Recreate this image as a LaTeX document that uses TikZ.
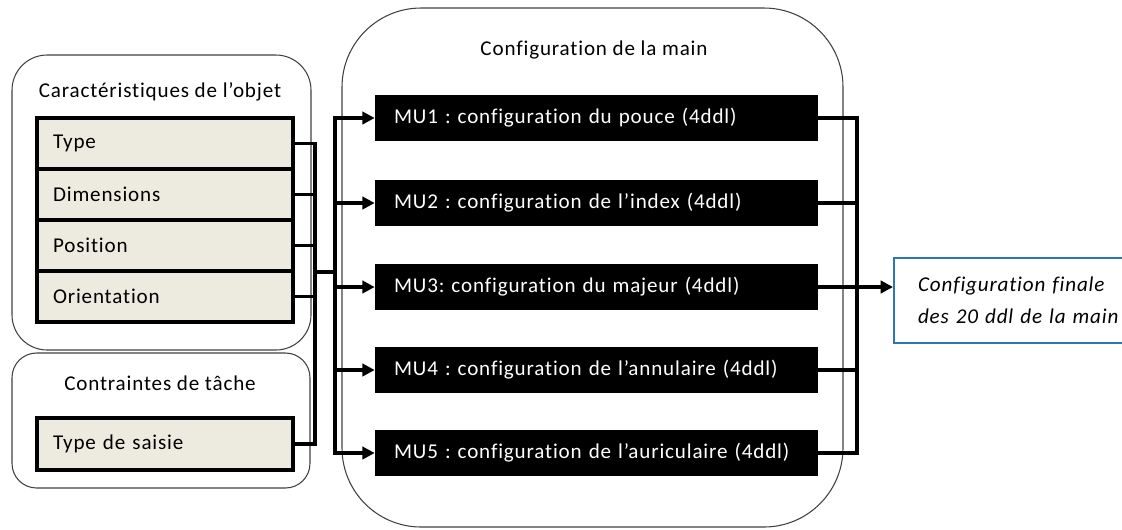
\documentclass[tikz,border=0pt]{standalone}
\usepackage{fontspec}
\setmainfont{Carlito}[LetterSpace=4, Ligatures=NoCommon]
\usetikzlibrary{positioning,arrows.meta}
\definecolor{beige}{HTML}{EDEADF}
\definecolor{cadre}{HTML}{2E75B6}
\frenchspacing
\begin{document}
\begin{tikzpicture}[x=0.02cm,y=-0.02cm,
	every node/.style={font=\fontsize{12}{14}\selectfont},
	groupe/.style={draw=black!75, line width=0.6pt},
	attr/.style={draw, line width=1.8pt, fill=beige, minimum height=1.02cm, text width=4.48cm, inner xsep=0.32cm, align=left},
	mu/.style={fill=black, text=white, minimum height=0.93cm, text width=8.1cm, inner xsep=0.38cm, align=left},
	conn/.style={line width=2.2pt, line cap=rect},
	fl/.style={conn, -{Triangle[length=7pt,width=7pt]}}]
	\useasboundingbox (0,0) rectangle (1122,529);
	\draw[groupe, rounded corners=20pt] (12,55) rectangle (311,350);
	\draw[groupe, rounded corners=14pt] (12,353) rectangle (310,488);
	\draw[groupe, rounded corners=45pt] (342,8) rectangle (843,527);
	\node (t1) at (160,92) {Caractéristiques de l’objet};
	\node (t2) at (160,383) {Contraintes de tâche};
	\node (t3) at (594,50) {Configuration de la main};
	\node[attr] (type) at (165,143.5) {Type};
	\node[attr] (dim) at (165,194.5) {Dimensions};
	\node[attr] (pos) at (165,245.5) {Position};
	\node[attr] (ori) at (165,296.5) {Orientation};
	\node[attr, minimum height=1.04cm] (saisie) at (165,444) {Type de saisie};
	\node[mu] (mu1) at (596.5,118) {MU1 : configuration du pouce (4ddl)};
	\node[mu] (mu2) at (596.5,203) {MU2 : configuration de l’index (4ddl)};
	\node[mu] (mu3) at (596.5,287) {MU3: configuration du majeur (4ddl)};
	\node[mu] (mu4) at (596.5,370) {MU4 : configuration de l’annulaire (4ddl)};
	\node[mu] (mu5) at (596.5,453) {MU5 : configuration de l’auriculaire (4ddl)};
	\node[draw=cadre, line width=1.2pt, anchor=west, minimum height=1.7cm, text width=4.6cm, inner xsep=0.48cm, align=left,
		font=\itshape\fontsize{12}{18}\selectfont] (fin) at (893,300.5) {Configuration finale\\des 20 ddl de la main};
	\coordinate (b1) at (315,272);
	\coordinate (b2) at (335,272);
	\coordinate (b3) at (857,287);
	\foreach \n in {type,dim,pos,ori,saisie}
		\draw[conn] (\n.east) -- (\n.east -| b1);
	\draw[conn] (type.east -| b1) -- (saisie.east -| b1);
	\draw[conn] (b1) -- (b2);
	\draw[conn] (mu1.west -| b2) -- (mu5.west -| b2);
	\foreach \i in {1,...,5}{
		\draw[fl] (mu\i.west -| b2) -- (mu\i.west);
		\draw[conn] (mu\i.east) -- (mu\i.east -| b3);
	}
	\draw[conn] (mu1.east -| b3) -- (mu5.east -| b3);
	\draw[fl] (mu3.east -| b3) -- (fin.west |- mu3);
\end{tikzpicture}
\end{document}
